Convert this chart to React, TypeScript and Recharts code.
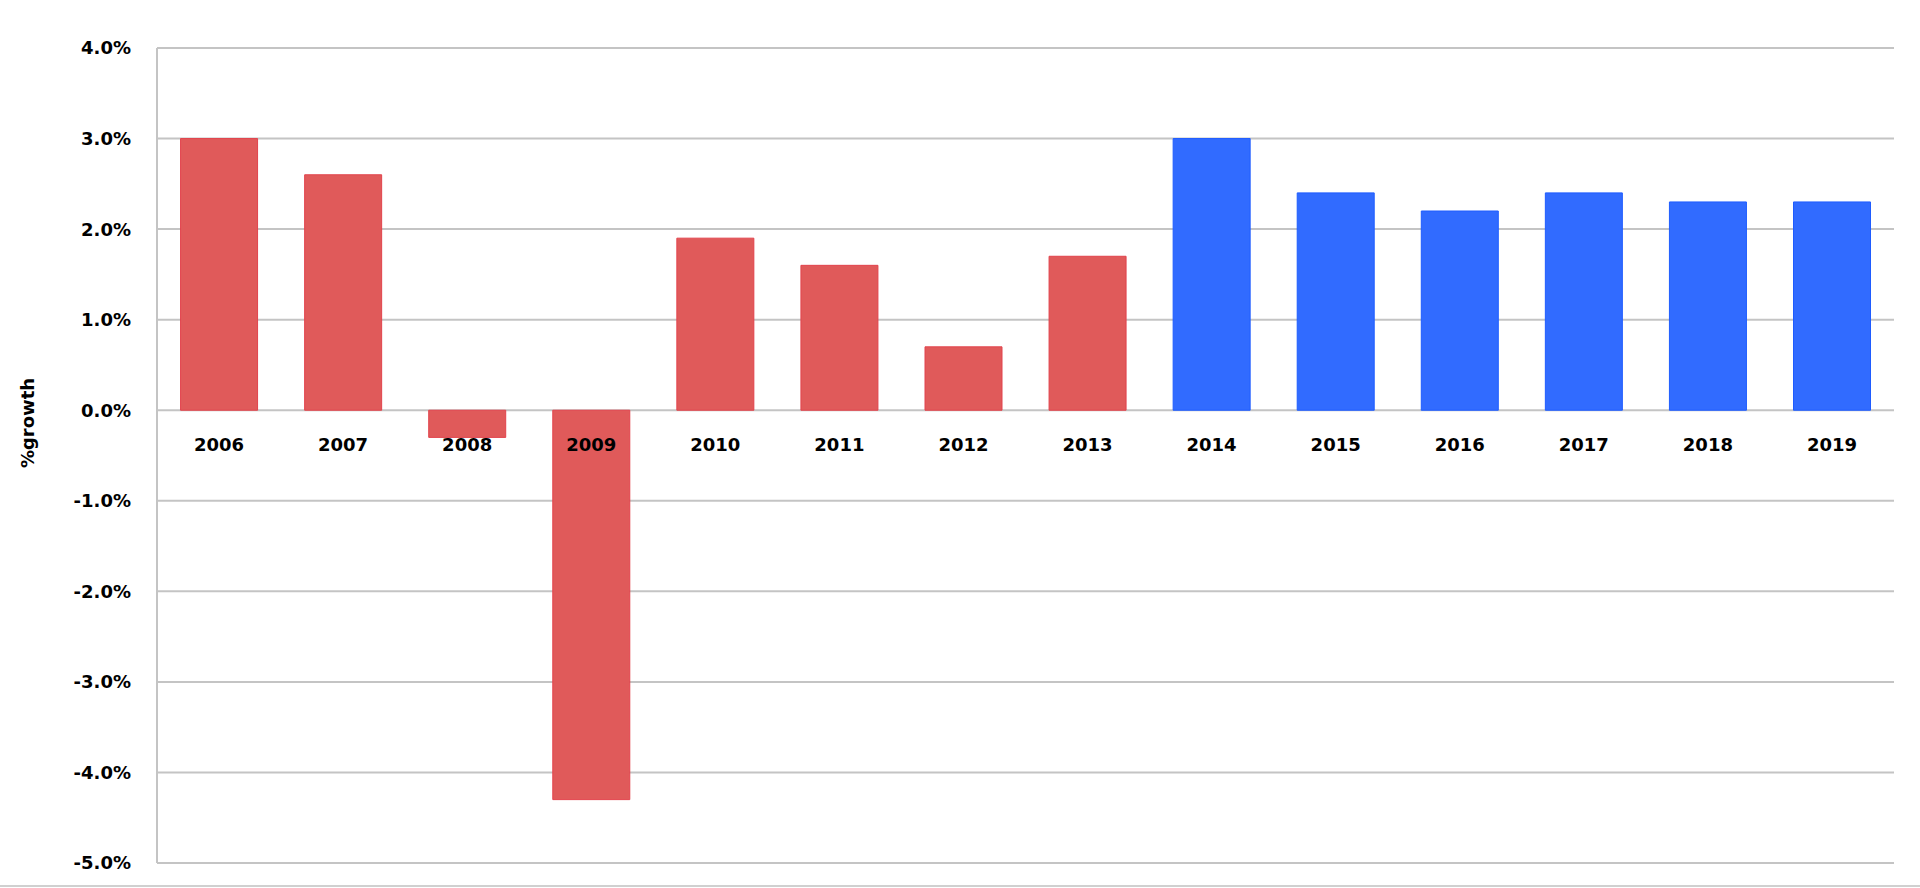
import { BarChart, Bar, XAxis, YAxis, CartesianGrid, Cell, Label } from "recharts";

const years = [2006, 2007, 2008, 2009, 2010, 2011, 2012, 2013, 2014, 2015, 2016, 2017, 2018, 2019];
const growth = [3.0, 2.6, -0.3, -4.3, 1.9, 1.6, 0.7, 1.7, 3.0, 2.4, 2.2, 2.4, 2.3, 2.3];
const yTicks = [-5, -4, -3, -2, -1, 0, 1, 2, 3, 4];
const forecastFrom = 2014;

const data = years.map((year, i) => ({ year: String(year), value: growth[i] }));

const PAST = "#E05A5A";
const PAST_EDGE = "#E2434C";
const FUTURE = "#316BFF";
const FUTURE_EDGE = "#1E5CFF";
const GRID = "#C4C4C4";
const FONT = "DejaVu Sans";

const WIDTH = 1920;
const HEIGHT = 888;
const TOP = 48;
const X_AXIS_H = 25;
const Y_MIN = -5;
const Y_MAX = 4;
const zeroY = TOP + ((Y_MAX - 0) / (Y_MAX - Y_MIN)) * (HEIGHT - TOP - X_AXIS_H);

// year labels sit just under the zero line, not at the bottom of the plot
const YearTick = (props: any) => {
  const { x, payload } = props;
  return (
    <text
      x={x}
      y={zeroY + 41}
      textAnchor="middle"
      fontFamily={FONT}
      fontWeight="bold"
      fontSize={18}
      fill="#000"
    >
      {payload.value}
    </text>
  );
};

const AxisTitle = () => (
  <text
    x={34}
    y={423}
    transform="rotate(-90 34 423)"
    textAnchor="middle"
    fontFamily={FONT}
    fontWeight="bold"
    fontSize={18}
    fill="#000"
  >
    %growth
  </text>
);

const App = () => (
  <div style={{ position: "absolute", left: 0, top: 0, width: WIDTH, height: HEIGHT, background: "#fff" }}>
    <BarChart
      width={WIDTH}
      height={HEIGHT}
      data={data}
      margin={{ top: TOP, right: 26, bottom: 0, left: 0 }}
      barCategoryGap="19%"
    >
      <CartesianGrid vertical={false} stroke={GRID} strokeWidth={2} />
      <YAxis
        width={157}
        domain={[Y_MIN, Y_MAX]}
        ticks={yTicks}
        interval={0}
        tickFormatter={(v: number) => `${v.toFixed(1)}%`}
        axisLine={{ stroke: GRID, strokeWidth: 2 }}
        tickLine={false}
        tickMargin={20}
        tick={{ fontFamily: FONT, fontWeight: "bold", fontSize: 18, fill: "#000" }}
      >
        <Label content={<AxisTitle />} />
      </YAxis>
      <Bar dataKey="value" isAnimationActive={false} strokeWidth={1}>
        {data.map((d) => {
          const future = Number(d.year) >= forecastFrom;
          return (
            <Cell
              key={d.year}
              fill={future ? FUTURE : PAST}
              stroke={future ? FUTURE_EDGE : PAST_EDGE}
            />
          );
        })}
      </Bar>
      <XAxis dataKey="year" axisLine={false} tickLine={false} height={X_AXIS_H} interval={0} tick={<YearTick />} />
    </BarChart>
    <div style={{ position: "absolute", left: 0, top: 885, width: WIDTH, height: 2, background: "#D0D0D0" }} />
  </div>
);

export default App;
